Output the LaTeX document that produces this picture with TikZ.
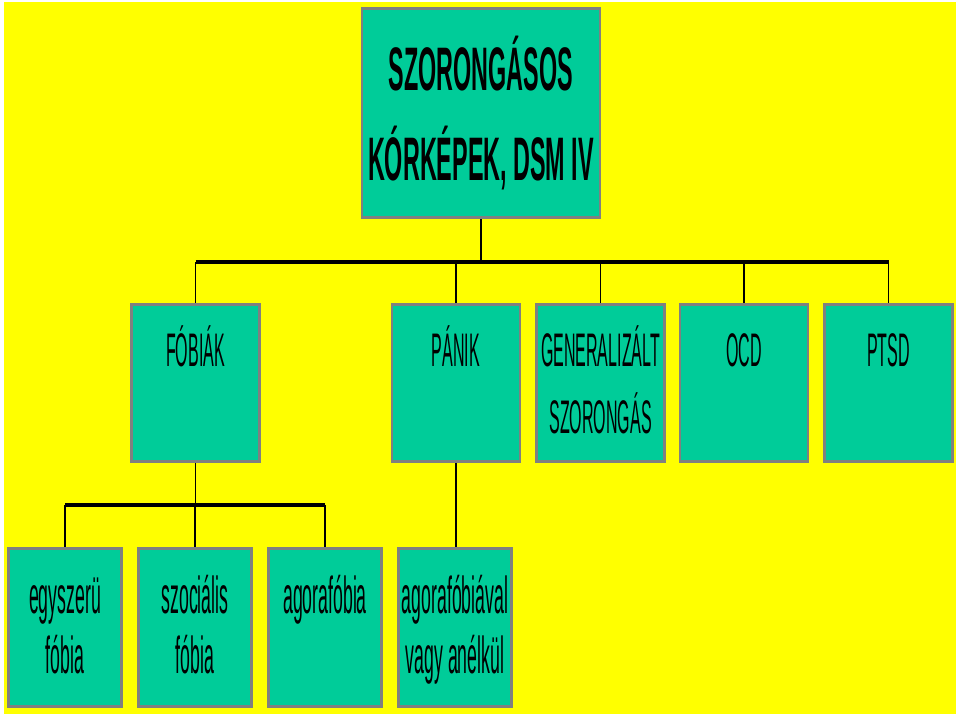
\documentclass[tikz,border=0pt]{standalone}
\usepackage{fontspec}
\newfontfamily\schmalfont[FakeStretch=0.34]{Liberation Sans}
\newfontfamily\titelfont[FakeStretch=0.38]{Liberation Sans Bold}
\definecolor{gelb}{RGB}{255,255,0}
\definecolor{tuerkis}{RGB}{0,204,153}
\definecolor{rand}{RGB}{128,128,128}

\begin{document}
\begin{tikzpicture}[x=0.025cm,y=-0.025cm,
	kasten/.style={draw=rand, line width=2pt, fill=tuerkis, inner sep=0pt},
	ebene/.style={kasten, minimum width=3.2cm, minimum height=3.93cm},
	blatt/.style={kasten, minimum width=2.83cm, minimum height=3.95cm},
	schrift2/.style={font=\schmalfont\fontsize{33.5}{47}\selectfont, align=center, anchor=base, inner sep=0pt},
	schrift3/.style={font=\schmalfont\fontsize{37}{43}\selectfont, align=center, anchor=base, inner sep=0pt},
	ast/.style={line width=1pt},
	balken/.style={line width=3pt}]
	
	% Hintergrund
	\useasboundingbox (0,0) rectangle (960,716);
	\fill[white] (0,0) rectangle (960,716);
	\fill[gelb] (4,2) rectangle (956,714);
	
	% Oberster Kasten
	\node[kasten, minimum width=5.95cm, minimum height=5.23cm, align=center,
		font=\titelfont\fontsize{43.7}{64}\selectfont] (titel) at (481,113) {SZORONGÁSOS\\KÓRKÉPEK, DSM IV};
	
	% Zweite Ebene
	\foreach \name/\x in {fobiak/195.5, panik/456, gen/600.5, ocd/744, ptsd/888.5} {
		\node[ebene] (\name) at (\x,383) {};
	}
	\node[schrift2] (fobiaktext) at ([yshift=-1.6cm]fobiak.north) {FÓBIÁK};
	\node[schrift2] (paniktext) at ([yshift=-1.6cm]panik.north) {PÁNIK};
	\node[schrift2] (gentext) at ([yshift=-3.25cm]gen.north) {GENERALIZÁLT\\SZORONGÁS};
	\node[schrift2] (ocdtext) at ([yshift=-1.6cm]ocd.north) {OCD};
	\node[schrift2] (ptsdtext) at ([yshift=-1.6cm]ptsd.north) {PTSD};
	
	% Dritte Ebene
	\foreach \name/\x in {egyszeru/65, szocialis/195, agora/325, mitohne/455} {
		\node[blatt] (\name) at (\x,627.5) {};
	}
	\node[schrift3] (egyszerutext) at ([yshift=-3.16cm]egyszeru.north) {egyszerü\\fóbia};
	\node[schrift3] (szocialistext) at ([yshift=-3.16cm]szocialis.north) {szociális\\fóbia};
	\node[schrift3] (agoratext) at ([yshift=-1.65cm]agora.north) {agorafóbia};
	\node[schrift3] (mitohnetext) at ([yshift=-3.16cm]mitohne.north) {agorafóbiával\\vagy anélkül};
	
	% Verbindungen oben
	\coordinate (knoten1) at (481,262);
	\draw[ast] (titel.south) -- (knoten1);
	\draw[balken] (fobiak.north |- knoten1) -- (ptsd.north |- knoten1);
	\foreach \n in {fobiak,panik,gen,ocd,ptsd} {
		\draw[ast] (\n.north |- knoten1) -- (\n.north);
	}
	
	% Verbindungen unten
	\coordinate (knoten2) at (195.5,505);
	\draw[ast] (fobiak.south) -- (knoten2);
	\draw[balken] (egyszeru.north |- knoten2) -- (agora.north |- knoten2);
	\foreach \n in {egyszeru,szocialis,agora} {
		\draw[ast] (\n.north |- knoten2) -- (\n.north);
	}
	\draw[ast] (panik.south) -- (panik.south |- mitohne.north);
\end{tikzpicture}
\end{document}
